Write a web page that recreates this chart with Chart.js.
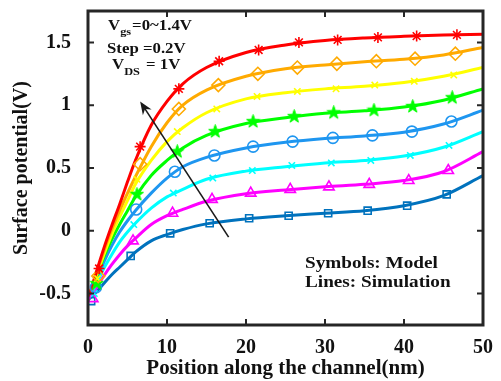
<!DOCTYPE html>
<html>
<head>
<meta charset="utf-8">
<script src="https://cdn.jsdelivr.net/npm/chart.js@4.4.1/dist/chart.umd.min.js"></script>
<style>
  html, body { margin: 0; padding: 0; background: #fff; }
</style>
</head>
<body>
<canvas id="chart" width="501" height="381"></canvas>
<script>
// axis ticks
const xTicks = [0, 10, 20, 30, 40, 50];
const yTicks = [-0.5, 0, 0.5, 1, 1.5];

// gate voltages, one curve each
const vgsLabels = ['0', '0.2', '0.4', '0.6', '0.8', '1.0', '1.2', '1.4'];

// simulation lines
const lineX = [0, 1, 2, 3, 4, 5, 6, 8, 10, 12, 15, 20, 25, 30, 35, 40, 45, 50];
const sim00 = [-0.55, -0.49, -0.42, -0.35, -0.29, -0.23, -0.17, -0.08, -0.03, 0.01, 0.055, 0.095, 0.12, 0.14, 0.16, 0.20, 0.28, 0.44];
const sim02 = [-0.55, -0.46, -0.36, -0.27, -0.19, -0.12, -0.06, 0.05, 0.12, 0.17, 0.235, 0.295, 0.325, 0.35, 0.37, 0.40, 0.47, 0.63];
const sim04 = [-0.55, -0.43, -0.30, -0.19, -0.09, -0.01, 0.06, 0.18, 0.27, 0.33, 0.41, 0.475, 0.51, 0.54, 0.56, 0.595, 0.665, 0.79];
const sim06 = [-0.55, -0.40, -0.25, -0.12, -0.01, 0.08, 0.16, 0.30, 0.42, 0.51, 0.585, 0.66, 0.705, 0.735, 0.755, 0.785, 0.85, 0.96];
const sim08 = [-0.55, -0.38, -0.21, -0.07, 0.05, 0.16, 0.27, 0.44, 0.56, 0.66, 0.76, 0.855, 0.90, 0.935, 0.955, 0.985, 1.04, 1.13];
const sim10 = [-0.55, -0.37, -0.19, -0.03, 0.11, 0.24, 0.37, 0.56, 0.71, 0.82, 0.94, 1.05, 1.10, 1.13, 1.15, 1.18, 1.23, 1.30];
const sim12 = [-0.55, -0.35, -0.16, 0.01, 0.16, 0.30, 0.43, 0.67, 0.86, 1.00, 1.12, 1.23, 1.29, 1.32, 1.345, 1.365, 1.40, 1.46];
const sim14 = [-0.55, -0.34, -0.14, 0.04, 0.21, 0.39, 0.56, 0.84, 1.03, 1.17, 1.30, 1.42, 1.48, 1.515, 1.535, 1.548, 1.558, 1.565];

// model symbols
const mx00 = [0.4, 5.4, 10.4, 15.4, 20.4, 25.4, 30.4, 35.4, 40.4, 45.4];
const my00 = [-0.56, -0.20, -0.02, 0.06, 0.10, 0.12, 0.14, 0.16, 0.20, 0.29];
const mx02 = [0.6, 5.7, 10.7, 15.7, 20.6, 25.6, 30.5, 35.6, 40.6, 45.6];
const my02 = [-0.54, -0.08, 0.14, 0.25, 0.30, 0.33, 0.35, 0.37, 0.40, 0.48];
const mx04 = [0.8, 5.8, 10.8, 15.8, 20.8, 25.8, 30.8, 35.8, 40.8, 45.7];
const my04 = [-0.50, 0.05, 0.30, 0.42, 0.48, 0.52, 0.54, 0.56, 0.60, 0.68];
const mx06 = [1.0, 6.1, 11.0, 16.0, 20.9, 25.9, 31.0, 36.0, 41.0, 46.0];
const my06 = [-0.45, 0.17, 0.47, 0.60, 0.67, 0.71, 0.74, 0.76, 0.79, 0.87];
const mx08 = [1.1, 6.2, 11.3, 16.1, 20.9, 26.1, 31.1, 36.2, 41.1, 46.1];
const my08 = [-0.42, 0.29, 0.63, 0.79, 0.87, 0.91, 0.94, 0.96, 0.99, 1.06];
const mx10 = [1.2, 6.2, 11.3, 16.3, 21.4, 26.5, 31.4, 36.3, 41.3, 46.3];
const my10 = [-0.38, 0.41, 0.79, 0.97, 1.07, 1.11, 1.13, 1.16, 1.19, 1.24];
const mx12 = [1.3, 6.6, 11.5, 16.5, 21.5, 26.5, 31.5, 36.5, 41.4, 46.5];
const my12 = [-0.36, 0.53, 0.97, 1.16, 1.25, 1.30, 1.33, 1.35, 1.37, 1.41];
const mx14 = [1.4, 6.6, 11.5, 16.6, 21.6, 26.7, 31.6, 36.7, 41.6, 46.7];
const my14 = [-0.30, 0.67, 1.13, 1.35, 1.44, 1.50, 1.52, 1.54, 1.55, 1.56];

// arrow from low to high Vgs (data coords)
const arrowFrom = [17.8, -0.05];
const arrowTo = [6.6, 1.03];

const sims = [sim00, sim02, sim04, sim06, sim08, sim10, sim12, sim14];
const modelX = [mx00, mx02, mx04, mx06, mx08, mx10, mx12, mx14];
const modelY = [my00, my02, my04, my06, my08, my10, my12, my14];

const colors = ['#0072BD', '#FF00FF', '#00FFFF', '#1E96F0', '#00FF00', '#FFFF00', '#FFAA00', '#FF0000'];

// matlab style pentagram, chart.js has none
function makePentagram(color) {
    let c = document.createElement('canvas');
    c.width = 15; c.height = 15;
    let g = c.getContext('2d');
    g.beginPath();
    for (let i = 0; i < 10; i++) {
        let r = i % 2 == 0 ? 7 : 2.8;
        let a = -Math.PI / 2 + i * Math.PI / 5;
        let px = 7.5 + r * Math.cos(a), py = 7.5 + r * Math.sin(a);
        if (i == 0) g.moveTo(px, py); else g.lineTo(px, py);
    }
    g.closePath();
    g.fillStyle = color;
    g.fill();
    g.strokeStyle = color;
    g.lineWidth = 1;
    g.stroke();
    return c;
}

const styles = ['rect', 'triangle', 'crossRot', 'circle', makePentagram('#00FF00'), 'crossRot', 'rectRot', 'star'];
const radii = [5, 6, 4.5, 5.5, 7, 4.5, 6.5, 5.5];

let datasets = [];
for (let i = 0; i < sims.length; i++) {
    datasets.push({
        label: 'sim ' + vgsLabels[i],
        data: lineX.map((x, k) => ({ x: x, y: sims[i][k] })),
        showLine: true,
        borderColor: colors[i],
        borderWidth: 3,
        pointRadius: 0,
        cubicInterpolationMode: 'monotone',
        order: 30 - i
    });
    datasets.push({
        label: 'model ' + vgsLabels[i],
        data: modelX[i].map((x, k) => ({ x: x, y: modelY[i][k] })),
        showLine: false,
        pointStyle: styles[i],
        pointRadius: radii[i],
        pointBorderWidth: 1.6,
        pointBorderColor: colors[i],
        pointBackgroundColor: 'rgba(0,0,0,0)',
        order: 10 - i
    });
}

const serif = '"Liberation Serif", "Times New Roman", serif';

// text stretched sideways like the original
function stretchText(ctx, str, x, y, size, sx) {
    ctx.save();
    ctx.font = 'bold ' + size + 'px ' + serif;
    ctx.translate(x, y);
    ctx.scale(sx, 1);
    ctx.fillText(str, 0, 0);
    let w = ctx.measureText(str).width * sx;
    ctx.restore();
    return w;
}

const decorPlugin = {
    id: 'decor',
    afterDraw(chart) {
        let ctx = chart.ctx;
        let a = chart.chartArea;
        let xs = chart.scales.x, ys = chart.scales.y;
        ctx.save();
        // frame
        ctx.strokeStyle = '#262626';
        ctx.lineWidth = 3;
        ctx.strokeRect(a.left, a.top, a.right - a.left, a.bottom - a.top);
        // inward ticks, all four sides
        ctx.lineWidth = 2;
        ctx.beginPath();
        xTicks.forEach(v => {
            let px = xs.getPixelForValue(v);
            ctx.moveTo(px, a.bottom); ctx.lineTo(px, a.bottom - 6);
            ctx.moveTo(px, a.top); ctx.lineTo(px, a.top + 6);
        });
        yTicks.forEach(v => {
            let py = ys.getPixelForValue(v);
            ctx.moveTo(a.left, py); ctx.lineTo(a.left + 6, py);
            ctx.moveTo(a.right, py); ctx.lineTo(a.right - 6, py);
        });
        ctx.stroke();

        // arrow
        let x1 = xs.getPixelForValue(arrowFrom[0]), y1 = ys.getPixelForValue(arrowFrom[1]);
        let x2 = xs.getPixelForValue(arrowTo[0]), y2 = ys.getPixelForValue(arrowTo[1]);
        let ang = Math.atan2(y2 - y1, x2 - x1);
        ctx.strokeStyle = '#1a1a1a';
        ctx.lineWidth = 1.6;
        ctx.beginPath();
        ctx.moveTo(x1, y1);
        ctx.lineTo(x2 - 8 * Math.cos(ang), y2 - 8 * Math.sin(ang));
        ctx.stroke();
        ctx.fillStyle = '#1a1a1a';
        ctx.beginPath();
        ctx.moveTo(x2, y2);
        ctx.lineTo(x2 - 14 * Math.cos(ang - 0.38), y2 - 14 * Math.sin(ang - 0.38));
        ctx.lineTo(x2 - 9 * Math.cos(ang), y2 - 9 * Math.sin(ang));
        ctx.lineTo(x2 - 14 * Math.cos(ang + 0.38), y2 - 14 * Math.sin(ang + 0.38));
        ctx.closePath();
        ctx.fill();

        // annotations
        ctx.fillStyle = '#111';
        ctx.textBaseline = 'alphabetic';
        ctx.textAlign = 'left';
        let lx = a.left + 20;
        let w = stretchText(ctx, 'V', lx, a.top + 19, 15, 1.12);
        w += stretchText(ctx, 'gs', lx + w, a.top + 24, 11, 1.12);
        stretchText(ctx, '=0~1.4V', lx + w + 1, a.top + 19, 15, 1.12);
        stretchText(ctx, 'Step =0.2V', lx - 1, a.top + 42, 15, 1.12);
        w = stretchText(ctx, 'V', lx + 4, a.top + 58, 15, 1.12);
        w += stretchText(ctx, 'DS', lx + 4 + w, a.top + 64, 11, 1.12);
        stretchText(ctx, ' = 1V', lx + 6 + w, a.top + 58, 15, 1.12);

        stretchText(ctx, 'Symbols: Model', a.left + 217, a.top + 257, 16, 1.2);
        stretchText(ctx, 'Lines: Simulation', a.left + 217, a.top + 276, 16, 1.2);
        ctx.restore();
    }
};

new Chart(document.getElementById('chart'), {
    type: 'scatter',
    data: { datasets: datasets },
    options: {
        responsive: false,
        animation: false,
        devicePixelRatio: 1,
        layout: { padding: { top: 11, right: 18, left: 0, bottom: 0 } },
        plugins: { legend: { display: false }, tooltip: { enabled: false } },
        scales: {
            x: {
                type: 'linear',
                min: 0,
                max: 50,
                grid: { display: false, drawTicks: false },
                border: { display: false },
                afterBuildTicks: s => { s.ticks = xTicks.map(v => ({ value: v })); },
                afterFit: s => { s.height = 56; s.paddingLeft = 0; s.paddingRight = 0; },
                ticks: { padding: 11, color: '#111', font: { family: serif, size: 20, weight: 'bold' } },
                title: {
                    display: true,
                    text: 'Position along the channel(nm)',
                    color: '#111',
                    font: { family: serif, size: 21, weight: 'bold' },
                    padding: { top: 0, bottom: 0 }
                }
            },
            y: {
                type: 'linear',
                min: -0.75,
                max: 1.75,
                grid: { display: false, drawTicks: false },
                border: { display: false },
                afterBuildTicks: s => { s.ticks = yTicks.map(v => ({ value: v })); },
                afterFit: s => { s.width = 88; s.paddingTop = 0; s.paddingBottom = 0; },
                ticks: {
                    padding: 17,
                    color: '#111',
                    font: { family: serif, size: 20, weight: 'bold' },
                    callback: v => String(v)
                },
                title: {
                    display: true,
                    text: 'Surface potential(V)',
                    color: '#111',
                    font: { family: serif, size: 20, weight: 'bold' },
                    padding: { top: 10, bottom: 0 }
                }
            }
        }
    },
    plugins: [decorPlugin]
});
</script>
</body>
</html>
